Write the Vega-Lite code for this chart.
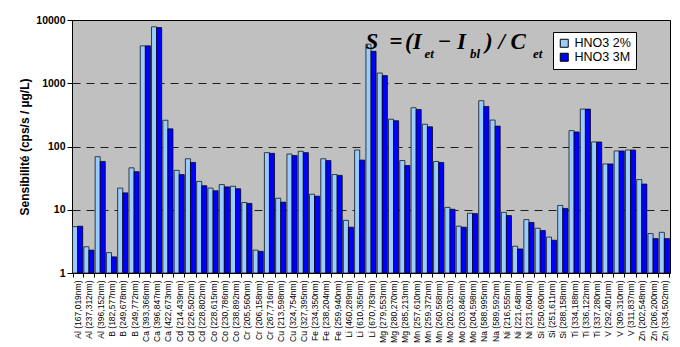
{
  "$schema": "https://vega.github.io/schema/vega-lite/v6.json",
  "width": 598,
  "height": 253,
  "autosize": {"type": "none"},
  "padding": {"left": 72, "top": 20, "right": 10, "bottom": 74},
  "background": "white",
  "config": {
    "view": {"fill": "#C0C0C0", "stroke": "#000000", "strokeWidth": 1},
    "font": "Liberation Sans"
  },
  "data": {
    "values": [
      {"line": "Al (167,019nm)", "series": "HNO3 2%", "value": 5.4}, {"line": "Al (167,019nm)", "series": "HNO3 3M", "value": 5.5},
      {"line": "Al (237,312nm)", "series": "HNO3 2%", "value": 2.6}, {"line": "Al (237,312nm)", "series": "HNO3 3M", "value": 2.3},
      {"line": "Al (396,152nm)", "series": "HNO3 2%", "value": 69}, {"line": "Al (396,152nm)", "series": "HNO3 3M", "value": 58},
      {"line": "B (182,577nm)", "series": "HNO3 2%", "value": 2.1}, {"line": "B (182,577nm)", "series": "HNO3 3M", "value": 1.8},
      {"line": "B (249,678nm)", "series": "HNO3 2%", "value": 22}, {"line": "B (249,678nm)", "series": "HNO3 3M", "value": 18.5},
      {"line": "B (249,772nm)", "series": "HNO3 2%", "value": 46}, {"line": "B (249,772nm)", "series": "HNO3 3M", "value": 40},
      {"line": "Ca (393,366nm)", "series": "HNO3 2%", "value": 3900}, {"line": "Ca (393,366nm)", "series": "HNO3 3M", "value": 3900},
      {"line": "Ca (396,847nm)", "series": "HNO3 2%", "value": 7800}, {"line": "Ca (396,847nm)", "series": "HNO3 3M", "value": 7600},
      {"line": "Ca (422,673nm)", "series": "HNO3 2%", "value": 260}, {"line": "Ca (422,673nm)", "series": "HNO3 3M", "value": 190},
      {"line": "Cd (214,439nm)", "series": "HNO3 2%", "value": 42}, {"line": "Cd (214,439nm)", "series": "HNO3 3M", "value": 36},
      {"line": "Cd (226,502nm)", "series": "HNO3 2%", "value": 64}, {"line": "Cd (226,502nm)", "series": "HNO3 3M", "value": 56},
      {"line": "Cd (228,802nm)", "series": "HNO3 2%", "value": 28}, {"line": "Cd (228,802nm)", "series": "HNO3 3M", "value": 24},
      {"line": "Co (228,615nm)", "series": "HNO3 2%", "value": 22}, {"line": "Co (228,615nm)", "series": "HNO3 3M", "value": 20},
      {"line": "Co (230,786nm)", "series": "HNO3 2%", "value": 25}, {"line": "Co (230,786nm)", "series": "HNO3 3M", "value": 23},
      {"line": "Co (238,892nm)", "series": "HNO3 2%", "value": 23.5}, {"line": "Co (238,892nm)", "series": "HNO3 3M", "value": 21.5},
      {"line": "Cr (205,560nm)", "series": "HNO3 2%", "value": 13}, {"line": "Cr (205,560nm)", "series": "HNO3 3M", "value": 12.6},
      {"line": "Cr (206,158nm)", "series": "HNO3 2%", "value": 2.3}, {"line": "Cr (206,158nm)", "series": "HNO3 3M", "value": 2.2},
      {"line": "Cr (267,716nm)", "series": "HNO3 2%", "value": 80}, {"line": "Cr (267,716nm)", "series": "HNO3 3M", "value": 78},
      {"line": "Cu (213,598nm)", "series": "HNO3 2%", "value": 15.2}, {"line": "Cu (213,598nm)", "series": "HNO3 3M", "value": 13.2},
      {"line": "Cu (324,754nm)", "series": "HNO3 2%", "value": 76}, {"line": "Cu (324,754nm)", "series": "HNO3 3M", "value": 72},
      {"line": "Cu (327,395nm)", "series": "HNO3 2%", "value": 84}, {"line": "Cu (327,395nm)", "series": "HNO3 3M", "value": 80},
      {"line": "Fe (234,350nm)", "series": "HNO3 2%", "value": 17.6}, {"line": "Fe (234,350nm)", "series": "HNO3 3M", "value": 16.4},
      {"line": "Fe (238,204nm)", "series": "HNO3 2%", "value": 64}, {"line": "Fe (238,204nm)", "series": "HNO3 3M", "value": 60},
      {"line": "Fe (259,940nm)", "series": "HNO3 2%", "value": 36}, {"line": "Fe (259,940nm)", "series": "HNO3 3M", "value": 35},
      {"line": "Li (460,289nm)", "series": "HNO3 2%", "value": 6.8}, {"line": "Li (460,289nm)", "series": "HNO3 3M", "value": 5.3},
      {"line": "Li (610,365nm)", "series": "HNO3 2%", "value": 88}, {"line": "Li (610,365nm)", "series": "HNO3 3M", "value": 61},
      {"line": "Li (670,783nm)", "series": "HNO3 2%", "value": 4150}, {"line": "Li (670,783nm)", "series": "HNO3 3M", "value": 3200},
      {"line": "Mg (279,553nm)", "series": "HNO3 2%", "value": 1450}, {"line": "Mg (279,553nm)", "series": "HNO3 3M", "value": 1320},
      {"line": "Mg (280,270nm)", "series": "HNO3 2%", "value": 270}, {"line": "Mg (280,270nm)", "series": "HNO3 3M", "value": 256},
      {"line": "Mg (285,213nm)", "series": "HNO3 2%", "value": 60}, {"line": "Mg (285,213nm)", "series": "HNO3 3M", "value": 50},
      {"line": "Mn (257,610nm)", "series": "HNO3 2%", "value": 410}, {"line": "Mn (257,610nm)", "series": "HNO3 3M", "value": 385},
      {"line": "Mn (259,372nm)", "series": "HNO3 2%", "value": 225}, {"line": "Mn (259,372nm)", "series": "HNO3 3M", "value": 205},
      {"line": "Mn (260,568nm)", "series": "HNO3 2%", "value": 58}, {"line": "Mn (260,568nm)", "series": "HNO3 3M", "value": 56},
      {"line": "Mo (202,032nm)", "series": "HNO3 2%", "value": 10.9}, {"line": "Mo (202,032nm)", "series": "HNO3 3M", "value": 10.2},
      {"line": "Mo (203,846nm)", "series": "HNO3 2%", "value": 5.5}, {"line": "Mo (203,846nm)", "series": "HNO3 3M", "value": 5.3},
      {"line": "Mo (204,598nm)", "series": "HNO3 2%", "value": 8.8}, {"line": "Mo (204,598nm)", "series": "HNO3 3M", "value": 8.7},
      {"line": "Na (588,995nm)", "series": "HNO3 2%", "value": 530}, {"line": "Na (588,995nm)", "series": "HNO3 3M", "value": 430},
      {"line": "Na (589,592nm)", "series": "HNO3 2%", "value": 262}, {"line": "Na (589,592nm)", "series": "HNO3 3M", "value": 210},
      {"line": "Ni (216,555nm)", "series": "HNO3 2%", "value": 9.1}, {"line": "Ni (216,555nm)", "series": "HNO3 3M", "value": 8.1},
      {"line": "Ni (221,648nm)", "series": "HNO3 2%", "value": 2.65}, {"line": "Ni (221,648nm)", "series": "HNO3 3M", "value": 2.4},
      {"line": "Ni (231,604nm)", "series": "HNO3 2%", "value": 7.0}, {"line": "Ni (231,604nm)", "series": "HNO3 3M", "value": 6.3},
      {"line": "Si (250,690nm)", "series": "HNO3 2%", "value": 5.1}, {"line": "Si (250,690nm)", "series": "HNO3 3M", "value": 4.7},
      {"line": "Si (251,611nm)", "series": "HNO3 2%", "value": 3.7}, {"line": "Si (251,611nm)", "series": "HNO3 3M", "value": 3.3},
      {"line": "Si (288,158nm)", "series": "HNO3 2%", "value": 11.7}, {"line": "Si (288,158nm)", "series": "HNO3 3M", "value": 10.5},
      {"line": "Ti (334,188nm)", "series": "HNO3 2%", "value": 178}, {"line": "Ti (334,188nm)", "series": "HNO3 3M", "value": 170},
      {"line": "Ti (336,122nm)", "series": "HNO3 2%", "value": 390}, {"line": "Ti (336,122nm)", "series": "HNO3 3M", "value": 390},
      {"line": "Ti (337,280nm)", "series": "HNO3 2%", "value": 118}, {"line": "Ti (337,280nm)", "series": "HNO3 3M", "value": 118},
      {"line": "V (292,401nm)", "series": "HNO3 2%", "value": 53}, {"line": "V (292,401nm)", "series": "HNO3 3M", "value": 53},
      {"line": "V (309,310nm)", "series": "HNO3 2%", "value": 85}, {"line": "V (309,310nm)", "series": "HNO3 3M", "value": 85},
      {"line": "V (311,837nm)", "series": "HNO3 2%", "value": 88}, {"line": "V (311,837nm)", "series": "HNO3 3M", "value": 88},
      {"line": "Zn (202,548nm)", "series": "HNO3 2%", "value": 30}, {"line": "Zn (202,548nm)", "series": "HNO3 3M", "value": 25.5},
      {"line": "Zn (206,200nm)", "series": "HNO3 2%", "value": 4.2}, {"line": "Zn (206,200nm)", "series": "HNO3 3M", "value": 3.5},
      {"line": "Zn (334,502nm)", "series": "HNO3 2%", "value": 4.4}, {"line": "Zn (334,502nm)", "series": "HNO3 3M", "value": 3.5}
    ]
  },
  "layer": [
    {
      "encoding": {
        "x": {
          "field": "line", "type": "nominal", "sort": null,
          "scale": {"paddingInner": 0.1, "paddingOuter": 0.05},
          "axis": {
            "title": null, "labelAngle": -90, "labelFontSize": 8.5, "labelColor": "#000000",
            "labelPadding": 3, "labelLimit": 0, "tickBand": "extent", "tickColor": "#000000",
            "tickSize": 4, "domainColor": "#000000", "grid": false
          }
        },
        "xOffset": {"field": "series", "type": "nominal", "scale": {"paddingInner": 0, "paddingOuter": 0}},
        "y": {
          "field": "value", "type": "quantitative",
          "scale": {"type": "log", "domain": [1, 10000]},
          "axis": {
            "values": [1, 10, 100, 1000, 10000], "format": "d",
            "title": "Sensibilité (cps/s / µg/L)", "titleFontSize": 12, "titleFontWeight": "bold",
            "titleColor": "#000000", "titlePadding": 4,
            "labelFontSize": 10.5, "labelFontWeight": "bold", "labelColor": "#000000", "labelPadding": 2,
            "tickColor": "#000000", "tickSize": 5, "domainColor": "#000000",
            "grid": true, "gridColor": "#000000", "gridDash": [8, 6], "gridOpacity": 0.85
          }
        },
        "y2": {"datum": 1}
      },
      "layer": [
        {"mark": {"type": "bar", "fill": "#7A7A7A", "xOffset": 1.5, "yOffset": 1.5}},
        {
          "mark": {"type": "bar", "stroke": "#000000", "strokeWidth": 0.7},
          "encoding": {
            "color": {
              "field": "series", "type": "nominal",
              "scale": {"domain": ["HNO3 2%", "HNO3 3M"], "range": ["#99CCFF", "#0000FF"]},
              "legend": {
                "title": null, "orient": "none", "legendX": 481, "legendY": 12,
                "fillColor": "#FFFFFF", "strokeColor": "#000000", "padding": 5,
                "symbolType": "square", "symbolSize": 64, "symbolStrokeColor": "#000000", "symbolStrokeWidth": 1,
                "labelFontSize": 12.5, "labelColor": "#000000", "rowPadding": 1, "labelOffset": 4
              }
            }
          }
        }
      ]
    },
    {
      "data": {"values": [{"piece": "S"}]},
      "mark": {"type": "text", "font": "Liberation Serif", "fontWeight": "bold", "fontStyle": "italic", "fontSize": 23, "align": "left", "baseline": "alphabetic", "dx": -28},
      "encoding": {"x": {"datum": "Mg (280,270nm)"}, "y": {"datum": 3500}, "text": {"field": "piece"}, "color": {"value": "#000000"}}
    },
    {
      "data": {"values": [{"piece": "="}]},
      "mark": {"type": "text", "font": "Liberation Serif", "fontWeight": "bold", "fontSize": 23, "align": "left", "baseline": "alphabetic", "dx": -4},
      "encoding": {"x": {"datum": "Mg (280,270nm)"}, "y": {"datum": 3500}, "text": {"field": "piece"}, "color": {"value": "#000000"}}
    },
    {
      "data": {"values": [{"piece": "(I"}]},
      "mark": {"type": "text", "font": "Liberation Serif", "fontWeight": "bold", "fontStyle": "italic", "fontSize": 23, "align": "left", "baseline": "alphabetic", "dx": 11.5},
      "encoding": {"x": {"datum": "Mg (280,270nm)"}, "y": {"datum": 3500}, "text": {"field": "piece"}, "color": {"value": "#000000"}}
    },
    {
      "data": {"values": [{"piece": "et"}]},
      "mark": {"type": "text", "font": "Liberation Serif", "fontWeight": "bold", "fontStyle": "italic", "fontSize": 13, "align": "left", "baseline": "alphabetic", "dx": 31, "dy": 9},
      "encoding": {"x": {"datum": "Mg (280,270nm)"}, "y": {"datum": 3500}, "text": {"field": "piece"}, "color": {"value": "#000000"}}
    },
    {
      "data": {"values": [{"piece": "−"}]},
      "mark": {"type": "text", "font": "Liberation Serif", "fontWeight": "bold", "fontSize": 23, "align": "left", "baseline": "alphabetic", "dx": 44.5},
      "encoding": {"x": {"datum": "Mg (280,270nm)"}, "y": {"datum": 3500}, "text": {"field": "piece"}, "color": {"value": "#000000"}}
    },
    {
      "data": {"values": [{"piece": "I"}]},
      "mark": {"type": "text", "font": "Liberation Serif", "fontWeight": "bold", "fontStyle": "italic", "fontSize": 23, "align": "left", "baseline": "alphabetic", "dx": 63.5},
      "encoding": {"x": {"datum": "Mg (280,270nm)"}, "y": {"datum": 3500}, "text": {"field": "piece"}, "color": {"value": "#000000"}}
    },
    {
      "data": {"values": [{"piece": "bl"}]},
      "mark": {"type": "text", "font": "Liberation Serif", "fontWeight": "bold", "fontStyle": "italic", "fontSize": 13, "align": "left", "baseline": "alphabetic", "dx": 76.5, "dy": 9},
      "encoding": {"x": {"datum": "Mg (280,270nm)"}, "y": {"datum": 3500}, "text": {"field": "piece"}, "color": {"value": "#000000"}}
    },
    {
      "data": {"values": [{"piece": ") / C"}]},
      "mark": {"type": "text", "font": "Liberation Serif", "fontWeight": "bold", "fontStyle": "italic", "fontSize": 23, "align": "left", "baseline": "alphabetic", "dx": 91.5},
      "encoding": {"x": {"datum": "Mg (280,270nm)"}, "y": {"datum": 3500}, "text": {"field": "piece"}, "color": {"value": "#000000"}}
    },
    {
      "data": {"values": [{"piece": "et"}]},
      "mark": {"type": "text", "font": "Liberation Serif", "fontWeight": "bold", "fontStyle": "italic", "fontSize": 13, "align": "left", "baseline": "alphabetic", "dx": 139.5, "dy": 9},
      "encoding": {"x": {"datum": "Mg (280,270nm)"}, "y": {"datum": 3500}, "text": {"field": "piece"}, "color": {"value": "#000000"}}
    }
  ]
}
